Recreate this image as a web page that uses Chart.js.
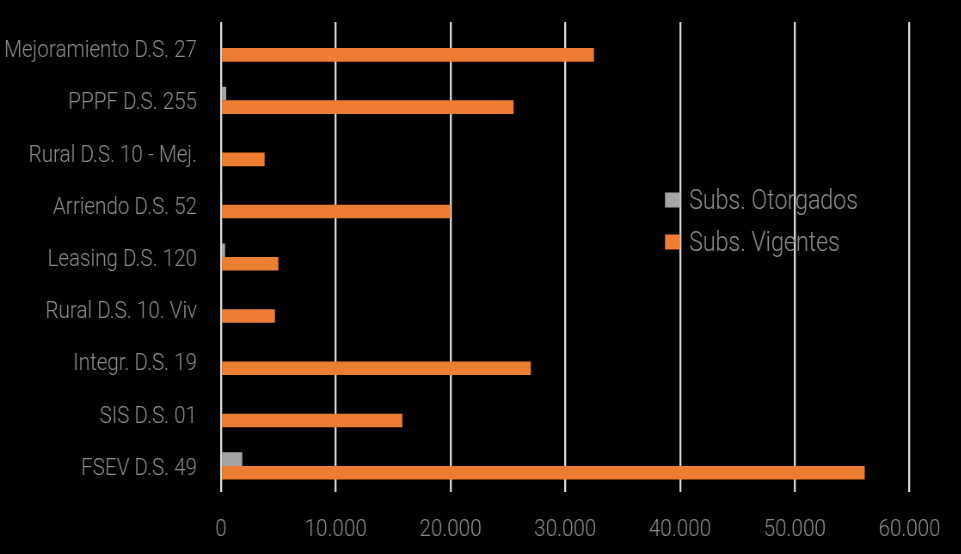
<!DOCTYPE html>
<html>
<head>
<meta charset="utf-8">
<script src="https://cdn.jsdelivr.net/npm/chart.js@4/dist/chart.umd.min.js"></script>
<style>
html,body{margin:0;padding:0;background:#000;overflow:hidden;}
#wrap{width:961px;height:554px;position:relative;overflow:hidden;background:#000;}
#c{position:absolute;left:0;top:0;transform:scaleX(0.86);transform-origin:0 0;}
</style>
</head>
<body>
<div id="wrap"><canvas id="c" width="1118" height="554"></canvas></div>
<script>
const categories = ["Mejoramiento D.S. 27","PPPF D.S. 255","Rural D.S. 10 - Mej.","Arriendo D.S. 52","Leasing D.S. 120","Rural D.S. 10. Viv","Integr. D.S. 19","SIS D.S. 01","FSEV D.S. 49"];
const seriesNames = ["Subs. Otorgados","Subs. Vigentes"];
const otorgados = [0, 450, 0, 100, 350, 0, 0, 0, 1850];
const vigentes = [32500, 25500, 3800, 20000, 5000, 4700, 27000, 15800, 56100];
const xTicks = [0,10000,20000,30000,40000,50000,60000];

const SX = 0.86; // horizontal condensing of the whole canvas
const FONT = "Roboto,'Liberation Sans',sans-serif";
const TEXT = '#8c8c8c';
const colors = ['#A5A5A5','#ED7D31'];

const legendPlugin = {
  id:'insideLegend',
  afterDraw(chart){
    const ctx = chart.ctx;
    ctx.save();
    ctx.font = '300 27px ' + FONT;
    ctx.textBaseline = 'middle';
    ctx.textAlign = 'left';
    chart.data.datasets.forEach((ds,i)=>{
      const y = 200 + i*42;
      ctx.fillStyle = ds.backgroundColor;
      ctx.fillRect(665/SX, y-7.5, 15/SX, 15);
      ctx.fillStyle = TEXT;
      ctx.fillText(ds.label, 689/SX, y+2);
    });
    ctx.restore();
  }
};

new Chart(document.getElementById('c'),{
  type:'bar',
  data:{
    labels:categories,
    datasets:[
      {label:seriesNames[0], data:otorgados, backgroundColor:colors[0]},
      {label:seriesNames[1], data:vigentes, backgroundColor:colors[1]}
    ]
  },
  options:{
    indexAxis:'y',
    responsive:false,
    animation:false,
    layout:{padding:{top:22,right:52/SX,left:0,bottom:0}},
    datasets:{bar:{categoryPercentage:0.52,barPercentage:1.0}},
    plugins:{legend:{display:false},tooltip:{enabled:false}},
    scales:{
      x:{
        min:0,max:60000,
        afterBuildTicks(axis){axis.ticks = xTicks.map(v=>({value:v}));},
        grid:{color:'#d9d9d9',lineWidth:2.3,drawTicks:false},
        border:{display:false},
        ticks:{color:TEXT,font:{family:FONT,size:24,weight:'300'},padding:24,
          callback:(v)=>v.toLocaleString('de-DE')},
        afterFit(axis){axis.height=62;}
      },
      y:{
        grid:{display:false,drawTicks:false},
        border:{display:false},
        ticks:{color:TEXT,font:{family:FONT,size:24,weight:'300'},padding:24/SX,labelOffset:3},
        afterFit(axis){axis.width=221/SX; axis.paddingTop=0; axis.paddingBottom=0;}
      }
    }
  },
  plugins:[legendPlugin]
});
</script>
</body>
</html>
